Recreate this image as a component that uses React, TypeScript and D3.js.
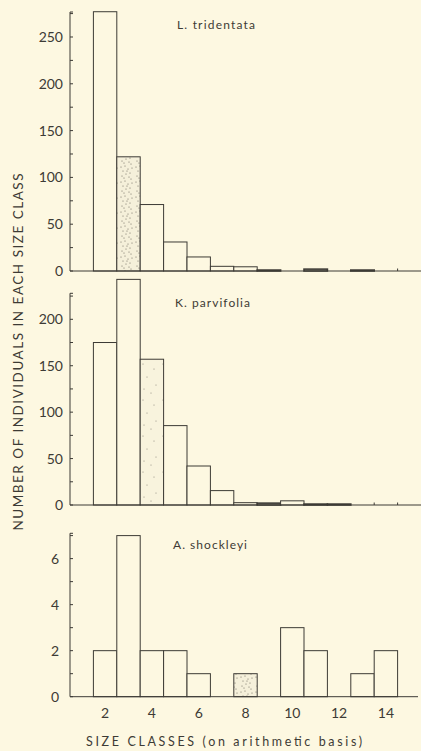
import React from "react";
import * as d3 from "d3";

const classes = [2, 3, 4, 5, 6, 7, 8, 9, 10, 11, 12, 13, 14, 15];
const larreaCounts = [277, 122, 71, 31, 15, 5, 4.5, 1, 0, 2, 0, 1, 0, 0];
const kraschCounts = [175, 243, 157, 85.5, 42, 15.5, 2.5, 2, 4.5, 1, 1, 0, 0, 0];
const atriplexCounts = [2, 7, 2, 2, 1, 0, 1, 0, 3, 2, 0, 1, 2, 0];
const stippledClass = [3, 4, 8];
const speciesNames = ["L. tridentata", "K. parvifolia", "A. shockleyi"];
const larreaTicks = [0, 50, 100, 150, 200, 250];
const kraschTicks = [0, 50, 100, 150, 200];
const atriplexTicks = [0, 2, 4, 6];
const xTickLabels = [2, 4, 6, 8, 10, 12, 14];
const baseTicks = [[15], [14, 15], []];

const BG = "#fdf8e1";
const INK = "#3d3b35";
const FONT = "Lato, 'DejaVu Sans', sans-serif";

const x = d3.scaleLinear().domain([1, 16]).range([70, 421]);

const panels = [
  { name: speciesNames[0], counts: larreaCounts, ticks: larreaTicks, minorStep: 25, y: d3.scaleLinear().domain([0, 276.7]).range([271, 12]), axisEnd: 421, labelX: 63, nameX: 177, nameY: 25, nameLen: 78 },
  { name: speciesNames[1], counts: kraschCounts, ticks: kraschTicks, minorStep: 25, y: d3.scaleLinear().domain([0, 228]).range([505, 293.3]), axisEnd: 421, labelX: 63, nameX: 175, nameY: 303, nameLen: 75 },
  { name: speciesNames[2], counts: atriplexCounts, ticks: atriplexTicks, minorStep: 1, y: d3.scaleLinear().domain([0, 7.1]).range([696.7, 533.3]), axisEnd: 418, labelX: 59, nameX: 173, nameY: 545, nameLen: 74 },
];

const dots = [
  [1, 2], [5, 1], [8, 4], [3, 6], [10, 8], [6, 9], [2, 11], [9, 12], [12, 3], [4, 13], [11, 14], [7, 6],
];
const sparseDots = [[3, 4], [14, 9], [7, 17], [16, 25], [4, 29], [11, 33]];

export default function App() {
  return (
    <svg width={421} height={751} style={{ position: "absolute", left: 0, top: 0, background: BG }}>
      <defs>
        <pattern id="stip" width={15} height={15} patternUnits="userSpaceOnUse">
          <rect width={15} height={15} fill="#f5f0da" />
          {dots.map((d, i) => (
            <circle key={i} cx={d[0]} cy={d[1]} r={0.55} fill="#6a665c" />
          ))}
        </pattern>
        <pattern id="stipLight" width={20} height={36} patternUnits="userSpaceOnUse" x={140} y={0}>
          <rect width={20} height={36} fill="#f8f3dd" />
          {sparseDots.map((d, i) => (
            <circle key={i} cx={d[0]} cy={d[1]} r={0.5} fill="#7a766c" />
          ))}
        </pattern>
      </defs>
      <rect width={421} height={751} fill={BG} />
      {panels.map((p, pi) => {
        const [y0, yTop] = p.y.range();
        const dmax = p.y.domain()[1];
        const minor = d3.range(0, dmax, p.minorStep);
        return (
          <g key={pi}>
            {p.counts.map((v, i) => {
              if (v <= 0) return null;
              const c = classes[i];
              const fill = c === stippledClass[pi] ? (pi === 1 ? "url(#stipLight)" : "url(#stip)") : BG;
              const h = y0 - p.y(v);
              return (
                <rect
                  key={i}
                  x={x(c)}
                  y={p.y(v)}
                  width={x(c + 1) - x(c)}
                  height={h}
                  fill={fill}
                  stroke={INK}
                  strokeWidth={h < 2 ? 1.6 : 1}
                />
              );
            })}
            <line x1={70} x2={p.axisEnd} y1={y0} y2={y0} stroke={INK} strokeWidth={1} />
            <line x1={70} x2={70} y1={y0} y2={yTop} stroke={INK} strokeWidth={1} />
            <line x1={70} x2={73} y1={yTop} y2={yTop} stroke={INK} strokeWidth={1} />
            {minor.map((t) => (
              <line key={t} x1={70} x2={73} y1={p.y(t)} y2={p.y(t)} stroke={INK} strokeWidth={1} />
            ))}
            {baseTicks[pi].map((c) => (
              <line key={c} x1={x(c)} x2={x(c)} y1={y0} y2={y0 - 2.5} stroke={INK} strokeWidth={1} />
            ))}
            {p.ticks.map((t) => (
              <text key={t} x={p.labelX} y={p.y(t)} dy="0.36em" textAnchor="end" fontFamily={FONT} fontSize={14} fill={INK}>
                {t}
              </text>
            ))}
            <text x={p.nameX} y={p.nameY} dy="0.36em" fontFamily={FONT} fontSize={12} fill={INK} textLength={p.nameLen} lengthAdjust="spacing">
              {p.name}
            </text>
          </g>
        );
      })}
      {xTickLabels.map((t) => (
        <text key={t} x={x(t + 0.5)} y={712.7} dy="0.36em" textAnchor="middle" fontFamily={FONT} fontSize={14} fill={INK}>
          {t}
        </text>
      ))}
      <text x={224} y={741} dy="0.36em" textAnchor="middle" fontFamily={FONT} fontSize={12.5} fill={INK} textLength={276} lengthAdjust="spacing">
        SIZE CLASSES (on arithmetic basis)
      </text>
      <text transform="translate(18,352) rotate(-90)" textAnchor="middle" dy="0.36em" fontFamily={FONT} fontSize={13.5} fill={INK} textLength={357} lengthAdjust="spacing">
        NUMBER OF INDIVIDUALS IN EACH SIZE CLASS
      </text>
    </svg>
  );
}
